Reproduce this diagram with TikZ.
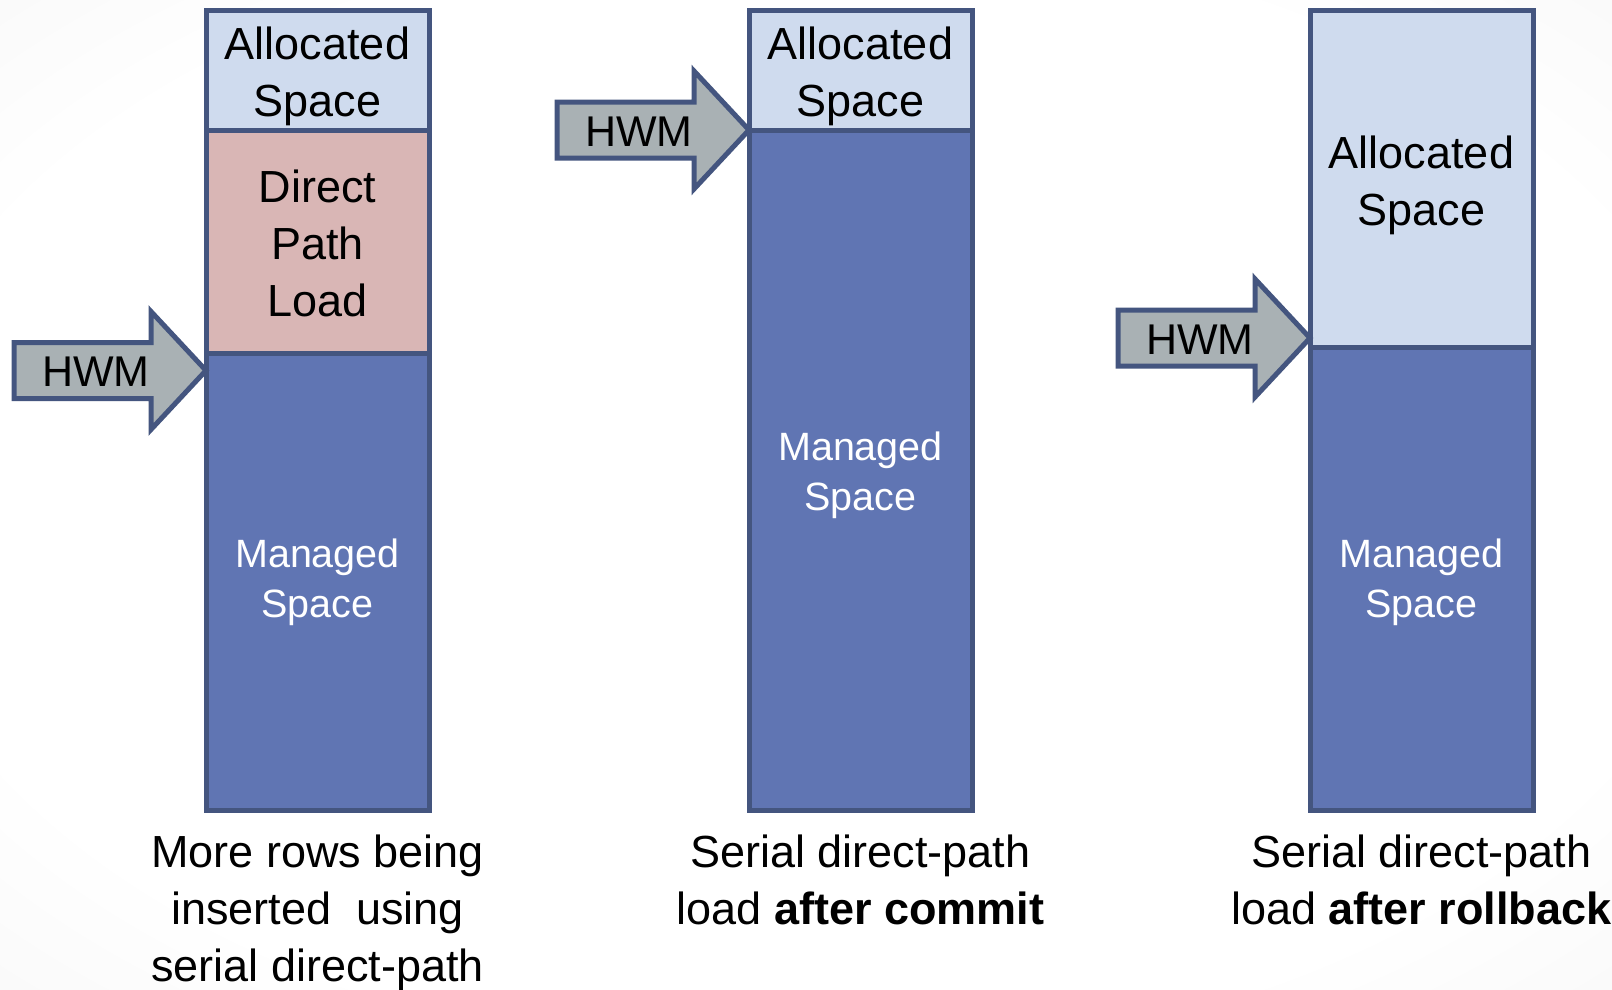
\documentclass[tikz,border=0pt]{standalone}
\usepackage{fontspec}
\setmainfont{Liberation Sans}
\usetikzlibrary{calc}

\definecolor{allocfill}{HTML}{CFDBEE}
\definecolor{directfill}{HTML}{D9B6B5}
\definecolor{managedfill}{HTML}{6075B3}
\definecolor{edge}{HTML}{44557F}
\definecolor{hwmfill}{HTML}{A9B1B4}

% soft page background: white in the middle, light grey towards the edges
\pgfdeclareradialshading{pagebg}{\pgfpoint{0bp}{0bp}}{%
  color(0bp)=(white); color(28bp)=(white); color(50bp)=(black!6); color(71bp)=(black!11)}

% HWM arrow: name, tip x, centre y
\newcommand\hwmarrow[3]{%
  \coordinate (#1tip) at (#2,#3);
  \draw[hwmshape] ($(#1tip)+(-192,-28)$) -- ($(#1tip)+(-55,-28)$) -- ($(#1tip)+(-55,-59)$)
    -- (#1tip) -- ($(#1tip)+(-55,59)$) -- ($(#1tip)+(-55,28)$) -- ($(#1tip)+(-192,28)$) -- cycle;
  \node[hwmtext] (#1) at ($(#1tip)+(-110,1.5)$) {HWM};}

\begin{document}
\begin{tikzpicture}[x=1pt,y=-1pt,
  seg/.style={draw=edge, line width=5pt, minimum width=223pt, inner sep=0pt, outer sep=0pt},
  big/.style={font=\fontsize{45}{57}\selectfont, align=center, inner sep=0pt},
  mng/.style={font=\fontsize{39.5}{50}\selectfont, align=center, inner sep=0pt, text=white},
  hwmtext/.style={font=\fontsize{43}{50}\selectfont, inner sep=0pt},
  hwmshape/.style={draw=edge, fill=hwmfill, line width=5pt, line join=miter},
  caption/.style={font=\fontsize{45}{57}\selectfont, align=center, inner sep=0pt, anchor=north}
]
\useasboundingbox (0,0) rectangle (1612,990);
\shade[shading=pagebg] (0,0) rectangle (1612,990);

% column 1: load in progress
\node[seg, fill=allocfill,   minimum height=119pt] (a1) at (317.5,70.5) {};
\node[seg, fill=directfill,  minimum height=223pt] (d1) at (317.5,241.5) {};
\node[seg, fill=managedfill, minimum height=457pt] (m1) at (317.5,581.5) {};
\node[big] (a1t) at ($(a1.center)+(0,6)$) {Allocated\\Space};
\node[big] (d1t) at ($(d1.center)+(0,2)$) {Direct\\Path\\Load};
\node[mng] (m1t) at ($(m1.center)+(0,1)$) {Managed\\Space};
\hwmarrow{h1}{206}{370.5}

% column 2: after commit
\node[seg, fill=allocfill,   minimum height=119pt] (a2) at (860.5,70.5) {};
\node[seg, fill=managedfill, minimum height=680pt] (m2) at (860.5,470) {};
\node[big] (a2t) at ($(a2.center)+(0,6)$) {Allocated\\Space};
\node[mng] (m2t) at ($(m2.center)+(0,5)$) {Managed\\Space};
\hwmarrow{h2}{749}{130}

% column 3: after rollback
\node[seg, fill=allocfill,   minimum height=336pt] (a3) at (1421.5,179) {};
\node[seg, fill=managedfill, minimum height=463pt] (m3) at (1421.5,578.5) {};
\node[big] (a3t) at ($(a3.center)+(0,6)$) {Allocated\\Space};
\node[mng] (m3t) at ($(m3.center)+(0,4)$) {Managed\\Space};
\hwmarrow{h3}{1310}{338}

% captions
\node[caption] (c1) at (317.5,835) {More rows being\\inserted~ using\\serial direct-path};
\node[caption] (c2) at (860.5,835) {Serial direct-path\\load \textbf{after commit}};
\node[caption] (c3) at (1421.5,835) {Serial direct-path\\load \textbf{after rollback}};
\end{tikzpicture}
\end{document}
